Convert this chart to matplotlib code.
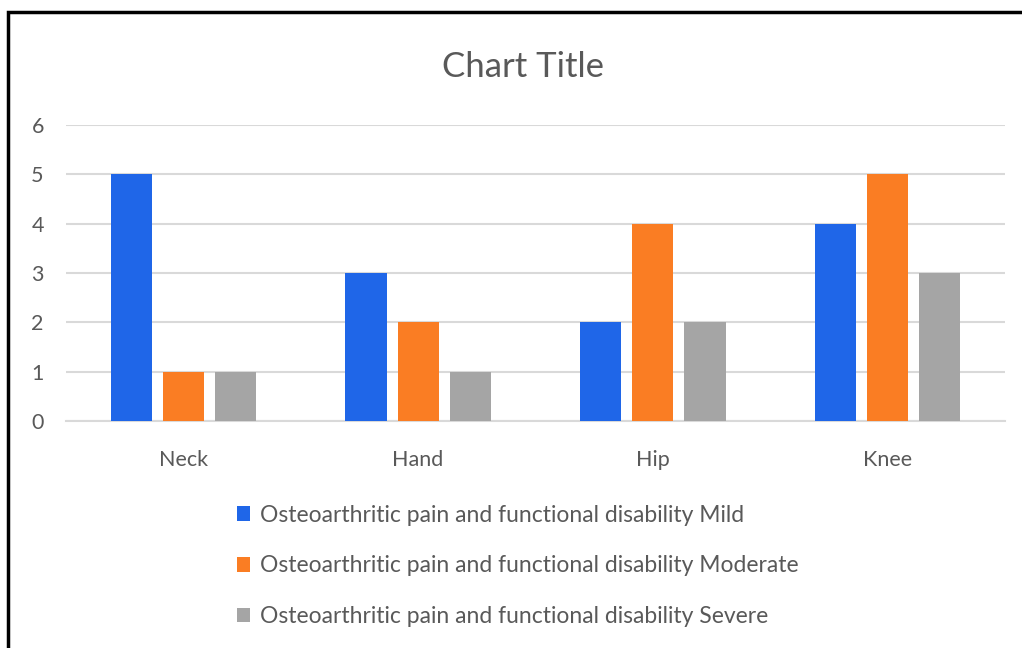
import matplotlib
matplotlib.use("Agg")
import matplotlib.pyplot as plt
import numpy as np
from matplotlib.patches import Rectangle

plt.rcParams["font.family"] = ["Lato", "DejaVu Sans"]

categories = ["Neck", "Hand", "Hip", "Knee"]
series_names = [
    "Osteoarthritic pain and functional disability Mild",
    "Osteoarthritic pain and functional disability Moderate",
    "Osteoarthritic pain and functional disability Severe",
]
mild = [5, 3, 2, 4]
moderate = [1, 2, 4, 5]
severe = [1, 1, 2, 3]
colors = ["#1f66e8", "#fa7d23", "#a5a5a5"]
text_color = "#595959"

fig = plt.figure(figsize=(10.22, 6.48), dpi=100)
# black frame around the chart (right and bottom run off the image)
fig.patches.append(Rectangle((8 / 1022, -0.05), 1.1, (648 - 12) / 648 + 0.05,
                             transform=fig.transFigure, fill=False,
                             edgecolor="black", linewidth=2.5))

ax = fig.add_axes([66 / 1022, (648 - 421) / 648, (1005 - 66) / 1022, 296 / 648])
x = np.arange(len(categories))
width = 0.175
step = 0.222
for i, (vals, name) in enumerate(zip([mild, moderate, severe], series_names)):
    ax.bar(x + (i - 1) * step, vals, width, color=colors[i], label=name, zorder=3)

ax.set_xlim(-0.5, len(categories) - 0.5)
ax.set_ylim(0, 6)
ax.set_yticks(range(7))
ax.set_xticks(x)
ax.set_xticklabels(categories)
ax.yaxis.grid(True, color="#d9d9d9", linewidth=1.5, zorder=0)
for side in ["top", "right", "left"]:
    ax.spines[side].set_visible(False)
ax.spines["bottom"].set_color("#d9d9d9")
ax.spines["bottom"].set_linewidth(1.5)
ax.tick_params(axis="both", length=0, colors=text_color, labelsize=15.5)
ax.tick_params(axis="x", pad=21)
ax.tick_params(axis="y", pad=16)

fig.text(523 / 1022, 1 - 67 / 648, "Chart Title", ha="center", va="center",
         fontsize=25, color=text_color)

ax.legend(loc="upper left", bbox_to_anchor=(216 / 1022, 1 - 484 / 648),
          bbox_transform=fig.transFigure, frameon=False, fontsize=16.5,
          labelcolor=text_color, handlelength=0.6, handleheight=0.6,
          handletextpad=0.4, labelspacing=1.3)

plt.savefig("out.png", dpi=100)
